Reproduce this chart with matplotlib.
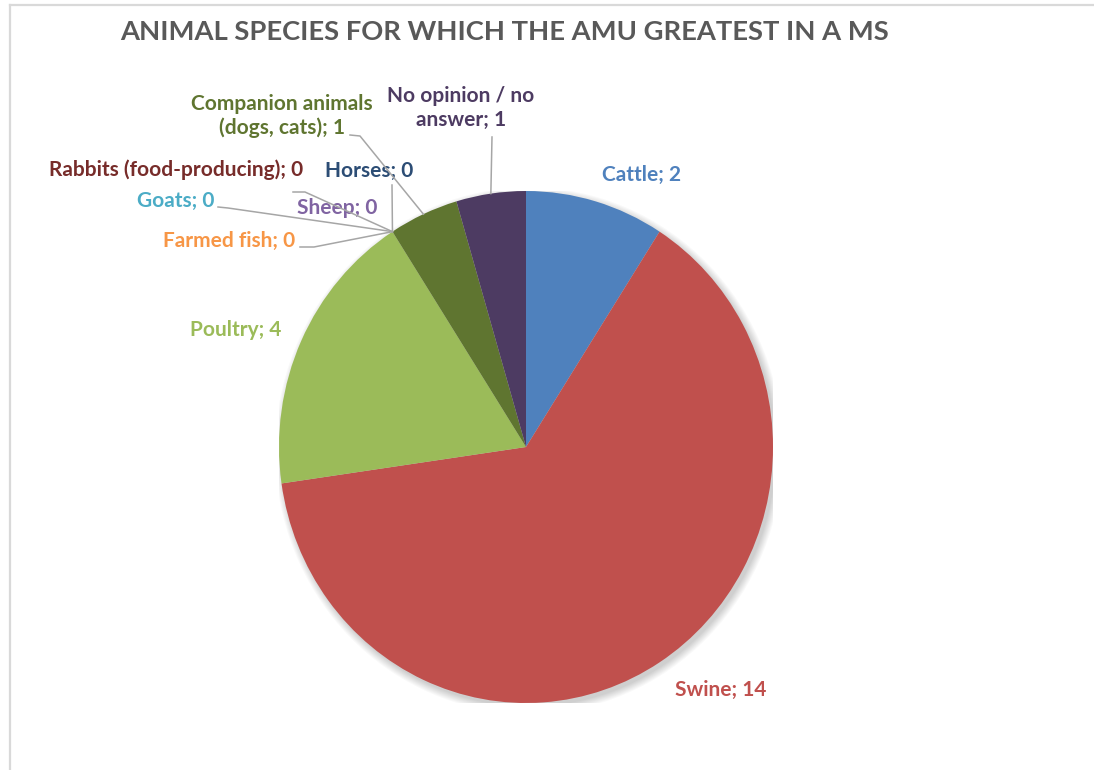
import numpy as np
import matplotlib.pyplot as plt
from matplotlib.lines import Line2D
from matplotlib.patches import Ellipse

# survey answers: species where antimicrobial use is greatest
species = ['Cattle', 'Swine', 'Poultry', 'Sheep', 'Goats', 'Farmed fish',
           'Horses', 'Rabbits (food-producing)',
           'Companion animals\n(dogs, cats)', 'No opinion / no\nanswer']
counts = [2, 14, 4, 0, 0, 0, 0, 0, 1, 1]
colors = ['#4F81BD', '#C0504D', '#9BBB59', '#8064A2', '#4BACC6', '#F79646',
          '#2C4D75', '#772C2A', '#5F7530', '#4D3B62']

title = 'ANIMAL SPECIES FOR WHICH THE AMU GREATEST IN A MS'

W, H = 1094, 770

# label centres in pixels (from top-left), and leader start points
label_pos = [(642, 175), (721, 690), (236, 330), (337, 208), (176, 201),
             (229, 241), (369, 171), (176, 170), (282, 116), (461, 108)]
leaders = {
    5: [(300, 247), (314, 247)],
    4: [(218, 207), (228, 208)],
    7: [(293, 192), (305, 192)],
    6: [(392, 185)],
    8: [(350, 135), (360, 136)],
    9: [(492, 137)],
}


def px(x, y):
    return x / W, 1 - y / H


fig = plt.figure(figsize=(W / 100, H / 100), dpi=100)
fig.patch.set_facecolor('white')

# chart area frame
fig.add_artist(Line2D([9.5 / W, 9.5 / W], [0, 1 - 5 / H], color='#D9D9D9',
                      lw=1.6, transform=fig.transFigure))
fig.add_artist(Line2D([9.5 / W, 1], [1 - 5 / H, 1 - 5 / H], color='#D9D9D9',
                      lw=1.6, transform=fig.transFigure))

ax = fig.add_axes([279 / W, 67 / H, 494 / W, 512 / H])

# soft drop shadow
for k in range(8):
    ax.add_patch(Ellipse((0.012, -0.014), 2 + 0.008 * k, 2 + 0.008 * k,
                         color='black', alpha=0.025, lw=0, zorder=0))

wedges, _ = ax.pie(counts, colors=colors, startangle=90, counterclock=False,
                   radius=1, wedgeprops=dict(linewidth=0, zorder=1))
ax.set_aspect('auto')
ax.set_xlim(-1, 1)
ax.set_ylim(-1, 1)
ax.axis('off')

fig.text(*px(505, 32), title, ha='center', va='center', fontsize=19.7,
         fontweight='bold', color='#595959', family='Lato')

for i, (name, val) in enumerate(zip(species, counts)):
    fig.text(*px(*label_pos[i]), f'{name}; {val}', ha='center', va='center',
             fontsize=15, fontweight='bold', color=colors[i], family='Lato',
             linespacing=1.25)

# leader lines go to the middle of each slice's rim
inv = fig.transFigure.inverted()
for i, pts in leaders.items():
    w = wedges[i]
    mid = np.deg2rad((w.theta1 + w.theta2) / 2)
    anchor = inv.transform(ax.transData.transform((np.cos(mid), np.sin(mid))))
    xs = [px(*p)[0] for p in pts] + [anchor[0]]
    ys = [px(*p)[1] for p in pts] + [anchor[1]]
    fig.add_artist(Line2D(xs, ys, color='#A6A6A6', lw=1.1,
                          transform=fig.transFigure, zorder=5))

fig.savefig('out.png', dpi=100)
